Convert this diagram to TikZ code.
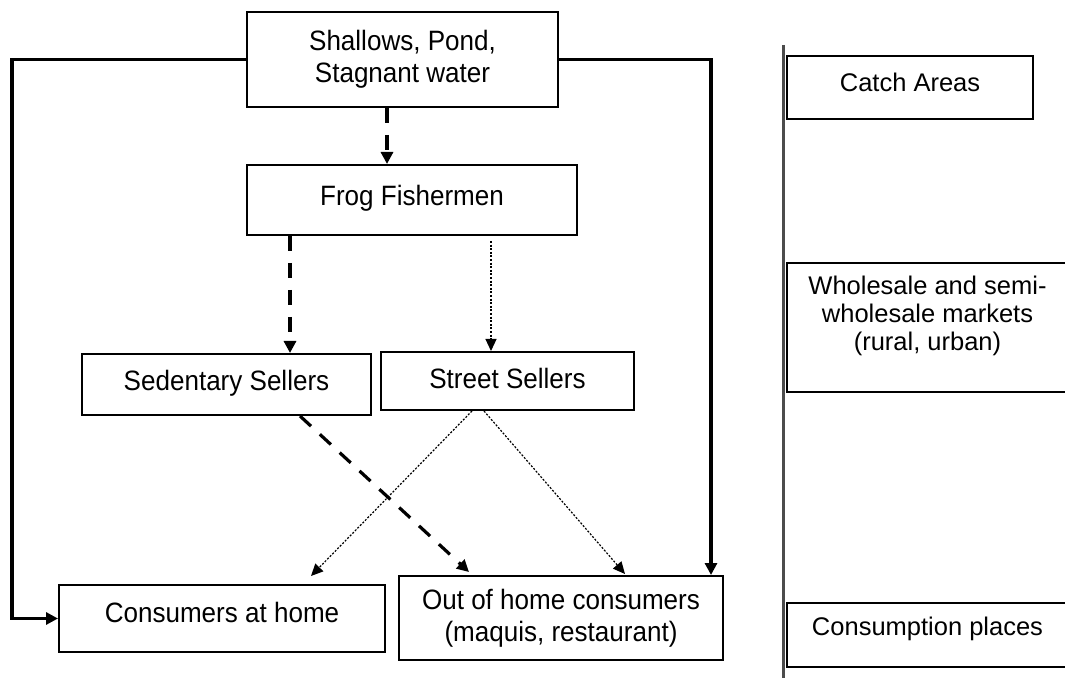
\documentclass[tikz,border=0pt]{standalone}
\usepackage{fontspec}
\setmainfont{Liberation Sans}
\newfontfamily\narrowfont[FakeStretch=0.93]{Liberation Sans}
\usetikzlibrary{arrows.meta}

\begin{document}
\begin{tikzpicture}[x=0.5pt,y=-0.5pt,
  box/.style={rectangle,draw,line width=1pt,inner sep=0pt,align=center,font=\narrowfont\fontsize{14}{16}\selectfont},
  side/.style={box,font=\rmfamily\fontsize{12.75}{14}\selectfont},
  link/.style={line width=1.7pt,-{Triangle[length=6pt,width=6pt]}},
  dashlink/.style={line width=1.6pt,dash pattern=on 7.5pt off 6pt,-{Triangle[length=6pt,width=6pt]}},
  dotlink/.style={line width=0.6pt,dash pattern=on 1pt off 0.8pt,-{Triangle[length=6pt,width=5.5pt]}}]
\useasboundingbox (0,0) rectangle (1065,678);

% flow boxes
\node [box,minimum width=155.5pt,minimum height=47.5pt] (shallows) at (402.5,59.5) {Shallows, Pond,\\Stagnant water};
\node [box,minimum width=165pt,minimum height=35pt,text depth=5pt] (frog) at (412,200) {Frog Fishermen};
\node [box,minimum width=144.5pt,minimum height=30.5pt,text depth=4.5pt] (sedentary) at (226.5,384.5) {Sedentary Sellers};
\node [box,minimum width=126.5pt,minimum height=29pt,text depth=3pt] (street) at (507.5,381) {Street Sellers};
\node [box,minimum width=163pt,minimum height=33.5pt,text depth=6.5pt] (home) at (222,618.5) {Consumers at home};
\node [box,minimum width=162pt,minimum height=42pt] (outhome) at (561,618) {Out of home consumers\\(maquis, restaurant)};

% levels
\draw [gray!60!black,line width=1.5pt] (783,45) -- (783,678);
\node [side,minimum width=123pt,minimum height=31.5pt,text depth=5.5pt] (catch) at (910,87.5) {Catch Areas};
\node [side,minimum width=140.5pt,minimum height=64.5pt,text depth=14.5pt] (wholesale) at (927.5,327.5) {Wholesale and semi-\\wholesale markets\\(rural, urban)};
\node [side,minimum width=140.5pt,minimum height=32pt,text depth=9pt] (consplace) at (927.5,635) {Consumption places};

% connectors
\coordinate (leftrail) at (12,0);
\coordinate (rightrail) at (711,0);
\coordinate (sedin) at ([xshift=31.75pt]sedentary.north);
\coordinate (strin) at ([xshift=-8.25pt]street.north);
\draw [link] (shallows.west) -| (leftrail |- home.west) -- (home.west);
\draw [link] (shallows.east) -| (rightrail |- outhome.north);
\draw [dashlink] ([xshift=-7.75pt]shallows.south) -- ([xshift=-12.5pt]frog.north);
\draw [dashlink] (sedin |- frog.south) -- (sedin);
\draw [dotlink,shorten <=2.5pt] (strin |- frog.south) -- (strin);
\draw [dashlink] ([xshift=36.75pt]sedentary.south) -- ([xshift=-46pt,yshift=1.5pt]outhome.north);
\draw [dotlink] ([xshift=-17.75pt]street.south) -- ([xshift=44.5pt,yshift=4pt]home.north);
\draw [dotlink] ([xshift=-11.75pt]street.south) -- ([xshift=32pt,yshift=0.5pt]outhome.north);
\end{tikzpicture}
\end{document}
